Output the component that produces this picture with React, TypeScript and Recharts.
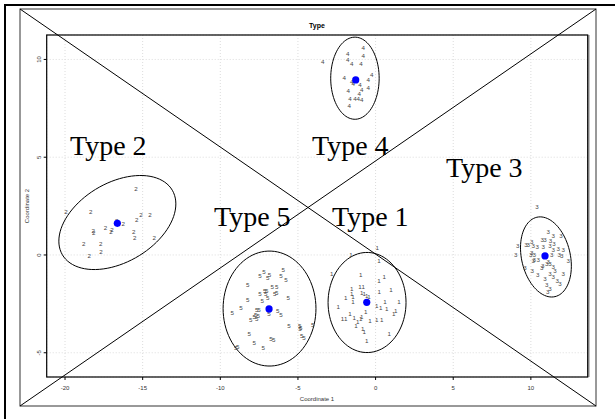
import { CartesianGrid, Scatter, ScatterChart, XAxis, YAxis } from "recharts"

// cluster members (x = Coordinate 1, y = Coordinate 2)
const type1Points = [
  [0.11, 0.39], [-1.58, 0.05], [0.22, -0.26], [-2.83, -0.94], [-0.96, -0.99], [0.56, -1.11],
  [0.22, -1.31], [0.99, -1.79], [-1.54, -1.7], [-1.0, -1.62], [-0.79, -1.62], [-0.57, -2.05],
  [-0.9, -1.93], [-1.54, -1.99], [-1.46, -2.1], [-0.73, -1.99], [-0.42, -2.1], [-1.93, -2.18],
  [-1.46, -2.39], [0.24, -1.88], [0.61, -2.39], [1.51, -2.39], [-2.4, -2.64], [0.07, -2.57],
  [0.33, -2.68], [0.71, -2.73], [1.29, -2.85], [1.17, -2.98], [-0.64, -2.9], [-1.65, -2.98],
  [-2.14, -3.26], [-1.93, -3.24], [-1.37, -3.21], [-0.9, -3.16], [-0.96, -3.27], [-1.15, -3.41],
  [-1.26, -3.63], [-0.36, -3.34], [0.07, -3.29], [0.39, -3.29], [-0.83, -3.75], [-0.73, -3.92],
  [0.88, -4.01], [-0.57, -4.35],
]

const type2Points = [
  [-15.43, 3.38], [-19.94, 2.2], [-18.35, 2.2], [-15.11, 2.05], [-15.38, 1.79], [-14.53, 2.08],
  [-16.67, 1.75], [-16.25, 1.6], [-17.4, 1.4], [-16.97, 1.31], [-17.04, 1.19], [-18.18, 1.26],
  [-18.15, 1.14], [-15.58, 1.19], [-15.51, 0.88], [-14.25, 0.88], [-18.8, 0.58], [-17.7, 0.58],
  [-17.68, 0.17], [-18.44, -0.04],
]

const type3Points = [
  [11.12, 1.19], [11.44, 0.99], [11.94, 0.99], [10.73, 0.8], [10.91, 0.8], [11.27, 0.72],
  [11.49, 0.6], [10.05, 0.68], [9.68, 0.56], [9.83, 0.56], [10.15, 0.51], [10.41, 0.42],
  [10.8, 0.42], [11.23, 0.51], [11.76, 0.34], [9.15, 0.48], [11.44, 0.26], [12.09, 0.26],
  [9.02, 0.05], [10.05, 0.12], [10.22, 0.05], [9.99, 0.0], [11.34, 0.0], [11.83, 0.05],
  [11.98, -0.05], [10.22, -0.22], [10.15, -0.29], [10.48, -0.22], [12.41, -0.29], [11.12, -0.34],
  [11.23, -0.42], [11.02, -0.42], [11.44, -0.6], [10.76, -0.56], [10.7, -0.63], [9.62, -0.63],
  [11.55, -0.77], [10.09, -0.77], [10.44, -0.99], [11.23, -0.94], [12.09, -0.94], [11.44, -1.11],
  [10.91, -1.19], [11.7, -1.28], [11.87, -1.45], [11.02, -1.53], [11.23, -1.7], [11.08, -1.88],
  [10.39, 2.5],
]

const type4Points = [
  [-0.79, 10.62], [-1.8, 10.28], [-0.79, 10.18], [-3.41, 9.92], [-1.8, 10.01], [-1.54, 9.81],
  [-0.94, 9.81], [-0.25, 9.24], [-2.02, 9.07], [-1.54, 8.86], [-0.47, 8.99], [-1.0, 8.7],
  [-0.9, 8.48], [-0.47, 8.56], [-1.76, 8.39], [-1.05, 8.27], [-1.65, 8.02], [-1.33, 7.98],
  [-1.11, 7.98], [-0.9, 7.96], [-1.69, 7.67], [-1.44, 8.78],
]

const type5Points = [
  [-5.94, -0.72], [-7.19, -0.85], [-7.44, -1.06], [-6.84, -0.99], [-6.95, -1.16], [-6.09, -1.06],
  [-5.77, -1.26], [-8.24, -1.52], [-6.65, -1.62], [-6.37, -1.62], [-7.14, -1.84], [-7.01, -1.84],
  [-7.44, -1.96], [-7.08, -1.98], [-6.5, -1.96], [-6.37, -1.91], [-5.62, -2.15], [-6.95, -2.18],
  [-8.24, -2.3], [-7.3, -2.35], [-9.23, -2.93], [-8.67, -2.69], [-7.51, -2.81], [-7.66, -2.81],
  [-6.3, -2.86], [-6.09, -3.03], [-6.86, -2.98], [-7.72, -3.03], [-7.55, -3.1], [-7.81, -3.16],
  [-7.66, -3.24], [-8.04, -3.29], [-5.58, -3.62], [-4.89, -3.63], [-4.82, -3.72], [-4.87, -3.77],
  [-4.05, -3.53], [-8.13, -4.01], [-6.74, -4.28], [-6.56, -4.31], [-4.76, -4.14], [-4.61, -4.23],
  [-7.81, -4.49], [-7.23, -4.74], [-8.88, -4.69], [-9.01, -4.72],
]

const clusterLabels = ["1", "2", "3", "4", "5"]
const clusterPoints = [type1Points, type2Points, type3Points, type4Points, type5Points]

// cluster centres (blue dots)
const centerX = [-0.57, -16.63, 10.91, -1.28, -6.86]
const centerY = [-2.42, 1.62, -0.05, 8.95, -2.76]

// ellipse hulls: centre and two conjugate semi-axis vectors, data units
const ellipseCenters = [[-0.55, -2.43], [-16.63, 1.66], [10.97, -0.1], [-1.33, 9.04], [-6.83, -2.74]]
const ellipseAxisU = [[2.51, 0], [3.54, 1.65], [0.584, -2.03], [1.56, 0], [2.99, 0]]
const ellipseAxisV = [[0, 2.56], [1.29, -1.75], [-1.53, -0.278], [0, 2.1], [0, 2.94]]

const xTicks = [-20, -15, -10, -5, 0, 5, 10]
const yTicks = [-5, 0, 5, 10]

const typeNames = ["Type 2", "Type 4", "Type 3", "Type 5", "Type 1"]

const toXY = (pts: number[][]) => pts.map(([x, y]) => ({ x, y }))

const ellipse = (i: number) => {
  const [cx, cy] = ellipseCenters[i]
  const [ux, uy] = ellipseAxisU[i]
  const [vx, vy] = ellipseAxisV[i]
  const out = []
  for (let k = 0; k <= 90; k++) {
    const t = (k / 90) * Math.PI * 2
    out.push({ x: cx + ux * Math.cos(t) + vx * Math.sin(t), y: cy + uy * Math.cos(t) + vy * Math.sin(t) })
  }
  return out
}

const sans = "'Liberation Sans', Arial, sans-serif"
const serif = "'Liberation Serif', 'Times New Roman', serif"

const numShape = (label: string) => (props: any) =>
  (
    <text x={props.cx} y={props.cy} textAnchor="middle" dominantBaseline="central" fontSize={6.2} fill="#444" fontFamily={sans}>
      {label}
    </text>
  )

const dotShape = (props: any) => <circle cx={props.cx} cy={props.cy} r={3.6} fill="#0000ff" />

const YTick = (props: any) => {
  const { x, y, payload } = props
  return (
    <text x={x} y={y} transform={`rotate(-90 ${x} ${y})`} textAnchor="middle" fontSize={6} fill="#333" fontFamily={sans}>
      {payload.value}
    </text>
  )
}

export default function App() {
  const centers = centerX.map((x, i) => ({ x, y: centerY[i] }))
  return (
    <div style={{ position: "absolute", left: 0, top: 0, width: 615, height: 419, background: "#fff", overflow: "hidden" }}>
      <ScatterChart width={615} height={419} margin={{ top: 35, right: 27.3, bottom: 0, left: 0 }}>
        <CartesianGrid stroke="#dcdcdc" strokeDasharray="1 2" />
        <XAxis
          type="number"
          dataKey="x"
          domain={[-21.18, 13.66]}
          ticks={xTicks}
          allowDataOverflow
          height={42}
          tickSize={3}
          tickMargin={6}
          axisLine={false}
          stroke="#000"
          tick={{ fontSize: 6, fill: "#333", fontFamily: sans }}
        />
        <YAxis
          type="number"
          dataKey="y"
          domain={[-6.24, 11.25]}
          ticks={yTicks}
          allowDataOverflow
          width={46.7}
          tickSize={3}
          tickMargin={3}
          axisLine={false}
          stroke="#000"
          tick={YTick}
        />
        {clusterPoints.map((pts, i) => (
          <Scatter key={"e" + i} data={ellipse(i)} line={{ stroke: "#000", strokeWidth: 1 }} lineType="joint" shape={() => <g />} isAnimationActive={false} />
        ))}
        {clusterPoints.map((pts, i) => (
          <Scatter key={"p" + i} data={toXY(pts)} shape={numShape(clusterLabels[i])} isAnimationActive={false} />
        ))}
        <Scatter data={centers} shape={dotShape} isAnimationActive={false} />
      </ScatterChart>
      <svg width={615} height={419} style={{ position: "absolute", left: 0, top: 0, pointerEvents: "none" }}>
        <line x1={4} y1={5} x2={615} y2={5} stroke="#000" strokeWidth={2} />
        <line x1={5} y1={4} x2={5} y2={419} stroke="#000" strokeWidth={2} />
        <rect x={20} y={9} width={576} height={397} fill="none" stroke="#333" strokeWidth={1} />
        <line x1={20} y1={9} x2={596} y2={406} stroke="#000" strokeWidth={1} />
        <line x1={20} y1={406} x2={596} y2={9} stroke="#000" strokeWidth={1} />
        <rect x={46.7} y={35} width={541} height={342} fill="none" stroke="#000" strokeWidth={1.2} />
        <line x1={588.7} y1={35} x2={588.7} y2={377} stroke="#777" strokeWidth={1.5} />
        <text x={317} y={25.5} textAnchor="middle" dominantBaseline="central" fontSize={7} fontWeight="bold" fontFamily={sans}>
          Type
        </text>
        <text x={317} y={398.5} textAnchor="middle" dominantBaseline="central" fontSize={6} fill="#333" fontFamily={sans}>
          Coordinate 1
        </text>
        <text x={27} y={206} transform="rotate(-90 27 206)" textAnchor="middle" dominantBaseline="central" fontSize={6} fill="#333" fontFamily={sans}>
          Coordinate 2
        </text>
        <text x={70} y={155} fontSize={28} fontFamily={serif}>{typeNames[0]}</text>
        <text x={312} y={155} fontSize={28} fontFamily={serif}>{typeNames[1]}</text>
        <text x={446} y={177} fontSize={28} fontFamily={serif}>{typeNames[2]}</text>
        <text x={214} y={226} fontSize={28} fontFamily={serif}>{typeNames[3]}</text>
        <text x={332} y={226} fontSize={28} fontFamily={serif}>{typeNames[4]}</text>
      </svg>
    </div>
  )
}
